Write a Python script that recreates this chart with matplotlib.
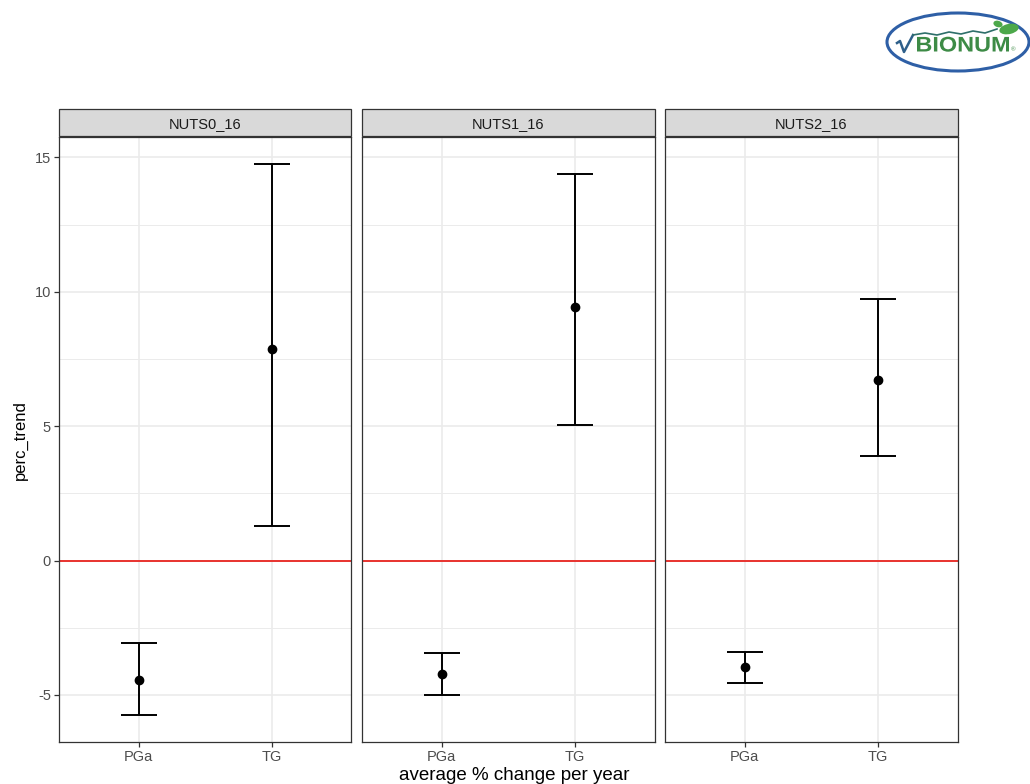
import numpy as np
import matplotlib
matplotlib.use('Agg')
import matplotlib.pyplot as plt
from matplotlib.patches import Rectangle, Ellipse, PathPatch
from matplotlib.textpath import TextPath
from matplotlib.font_manager import FontProperties
from matplotlib.transforms import Affine2D

plt.rcParams['font.family'] = ['Liberation Sans', 'DejaVu Sans']
plt.rcParams['axes.unicode_minus'] = False

# trend estimates with confidence limits, one facet per NUTS level
panels = ['NUTS0_16', 'NUTS1_16', 'NUTS2_16']
categories = ['PGa', 'TG']
estimate = [[-4.46, 7.89], [-4.23, 9.44], [-3.97, 6.73]]
lower = [[-5.76, 1.27], [-5.00, 5.04], [-4.54, 3.88]]
upper = [[-3.06, 14.74], [-3.45, 14.38], [-3.39, 9.72]]
yticks = [-5, 0, 5, 10, 15]
yminor = [-2.5, 2.5, 7.5, 12.5]

W, H = 1030, 784
fig, axes = plt.subplots(1, 3, figsize=(W / 100, H / 100), dpi=100, sharey=True)
fig.subplots_adjust(left=58.7 / W, right=957.7 / W, bottom=1 - 742.3 / H,
                    top=1 - 137 / H, wspace=0.036)

grid_col = '#EBEBEB'
x = np.arange(1, len(categories) + 1)

for i, ax in enumerate(axes):
    ax.set_xlim(0.4, 2.6)
    ax.set_ylim(-6.76, 15.76)
    for yy in yminor:
        ax.axhline(yy, color=grid_col, lw=0.7, zorder=0)
    for yy in yticks:
        ax.axhline(yy, color=grid_col, lw=1.2, zorder=0)
    for xx in x:
        ax.axvline(xx, color=grid_col, lw=1.2, zorder=0)
    ax.axhline(0, color='#e8241f', lw=1.3, zorder=1)

    est = np.array(estimate[i])
    lo = np.array(lower[i])
    hi = np.array(upper[i])
    ax.errorbar(x, est, yerr=[est - lo, hi - est], fmt='o', color='black',
                ms=6, elinewidth=1.4, capsize=13, capthick=1.4, zorder=3)

    ax.set_xticks(x)
    ax.set_xticklabels(categories)
    ax.set_yticks(yticks)
    ax.tick_params(axis='both', length=3.5, width=0.9, color='#333333',
                   labelsize=10.5, labelcolor='#4D4D4D', pad=2)
    if i > 0:
        ax.tick_params(axis='y', length=0)
    for sp in ax.spines.values():
        sp.set_color('#333333')
        sp.set_linewidth(0.9)

    # facet strip
    strip_h = 26.7 / (742.3 - 137)
    ax.add_patch(Rectangle((0, 1.0015), 1, strip_h, transform=ax.transAxes,
                           facecolor='#D9D9D9', edgecolor='#333333', lw=0.9,
                           clip_on=False))
    ax.text(0.5, 1 + strip_h / 2, panels[i], transform=ax.transAxes,
            ha='center', va='center', fontsize=10.5, color='#1A1A1A')

fig.text(20 / W, 1 - 440 / H, 'perc_trend', rotation=90, ha='center',
         va='center', fontsize=12, color='black')
fig.text(514 / W, 1 - 783.5 / H, 'average % change per year', ha='center',
         va='bottom', fontsize=13.5, color='black')


# logo in the top right corner (pixel coordinates, y measured from the top)
def to_fig(xp, yp):
    return xp / W, 1 - yp / H


cx, cy = to_fig(958, 42)
fig.patches.append(Ellipse((cx, cy), 142 / W, 58 / H, transform=fig.transFigure,
                           facecolor='white', edgecolor='#2E5FA6', lw=2.2))

tp = TextPath((0, 0), 'BIONUM', size=1,
              prop=FontProperties(family='Liberation Sans', weight='bold'))
ext = tp.get_extents()
x0, x1, ytop, ybot = 917, 1009, 36.7, 51.7
sx = (x1 - x0) / ext.width
sy = (ybot - ytop) / ext.height
tr = Affine2D().translate(-ext.x0, -ext.y0).scale(sx, sy).translate(x0, H - ybot) \
    + Affine2D().scale(1 / 100) + fig.dpi_scale_trans
fig.patches.append(PathPatch(tp, transform=tr, facecolor='#3D8B46', lw=0))

rx, ry = to_fig(1011, 50)
fig.text(rx, ry, '®', fontsize=4.5, color='#3D8B46', ha='left', va='center')

sq = [to_fig(*p) for p in [(897, 43), (900, 41), (904, 52), (913, 35)]]
fig.add_artist(plt.Line2D([p[0] for p in sq], [p[1] for p in sq],
                          transform=fig.transFigure, color='#2E5F8A', lw=1.8))
wave = [to_fig(*p) for p in [(913, 35), (925, 33), (937, 35), (949, 32),
                             (961, 34), (973, 31), (985, 33), (997, 29)]]
fig.add_artist(plt.Line2D([p[0] for p in wave], [p[1] for p in wave],
                          transform=fig.transFigure, color='#2E6F6A', lw=1.2))
lx, ly = to_fig(1009, 29)
fig.patches.append(Ellipse((lx, ly), 20 / W, 10 / H, angle=20,
                           transform=fig.transFigure, facecolor='#4CA84A',
                           edgecolor='none'))
lx, ly = to_fig(998, 24)
fig.patches.append(Ellipse((lx, ly), 10 / W, 6 / H, angle=-40,
                           transform=fig.transFigure, facecolor='#4CA84A',
                           edgecolor='none'))

fig.savefig('out.png', dpi=100)
